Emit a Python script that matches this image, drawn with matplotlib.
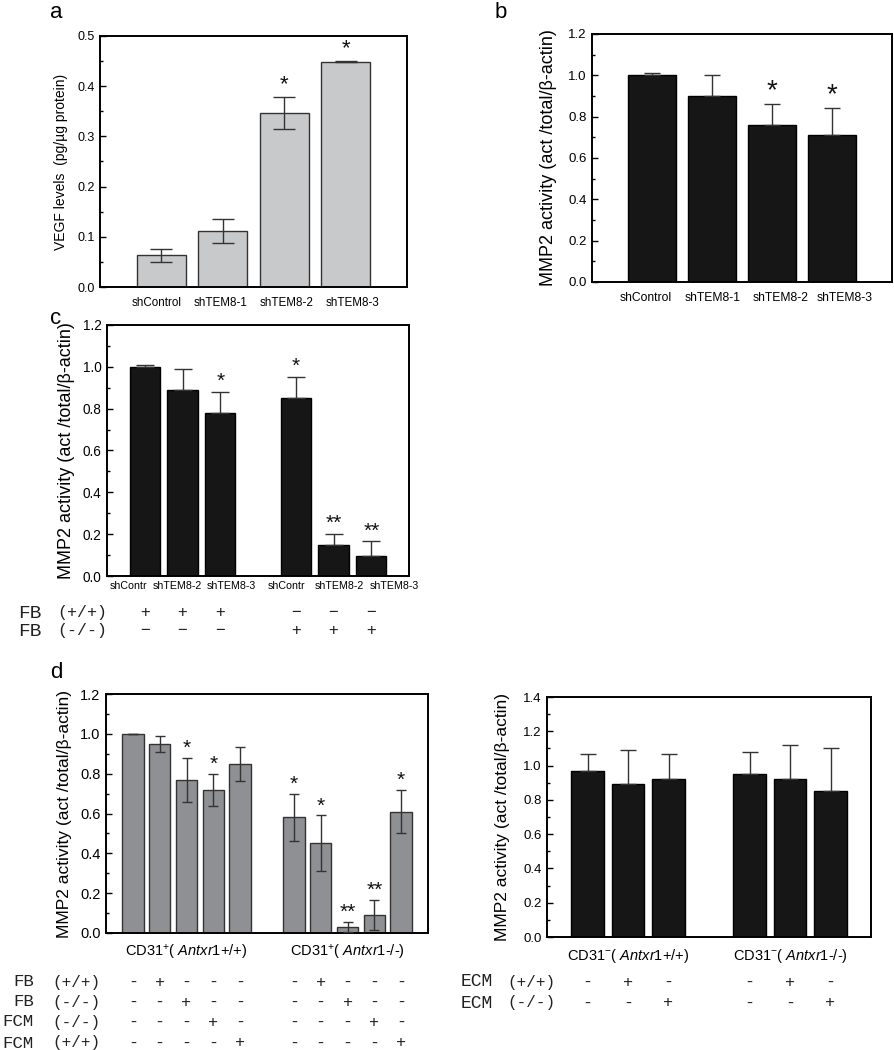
import matplotlib
matplotlib.use("Agg")
import matplotlib.pyplot as plt
import matplotlib.transforms as mtransforms
from matplotlib.ticker import MultipleLocator, FormatStrFormatter

plt.rcParams["font.family"] = ["Liberation Sans", "DejaVu Sans"]
plt.rcParams["mathtext.fontset"] = "custom"
plt.rcParams["mathtext.it"] = "Liberation Sans:italic"
plt.rcParams["mathtext.rm"] = "Liberation Sans"

# ---- data ----
a_labels = ["shControl", "shTEM8-1", "shTEM8-2", "shTEM8-3"]
a_vals = [0.063, 0.112, 0.347, 0.449]
a_err = [0.013, 0.024, 0.032, 0.001]
a_stars = ["", "", "*", "*"]

b_labels = ["shControl", "shTEM8-1", "shTEM8-2", "shTEM8-3"]
b_vals = [1.00, 0.90, 0.76, 0.71]
b_err = [0.01, 0.10, 0.10, 0.13]
b_stars = ["", "", "*", "*"]

c_labels = ["shContr", "shTEM8-2", "shTEM8-3", "shContr", "shTEM8-2", "shTEM8-3"]
c_vals = [1.00, 0.89, 0.78, 0.85, 0.15, 0.095]
c_err = [0.01, 0.10, 0.10, 0.10, 0.05, 0.07]
c_stars = ["", "", "*", "*", "**", "**"]
c_rows = ["FB", "FB"]
c_geno = ["(+/+)", "(-/-)"]
c_signs = [["+", "+", "+", "−", "−", "−"],
           ["−", "−", "−", "+", "+", "+"]]

d_groups = [r"CD31$^{+}$( $\mathit{Antxr1{+}/{+}}$)", r"CD31$^{+}$( $\mathit{Antxr1}$-/-)"]
d_vals = [1.00, 0.95, 0.77, 0.72, 0.85, 0.58, 0.45, 0.03, 0.09, 0.61]
d_err = [0.0, 0.04, 0.11, 0.08, 0.085, 0.12, 0.14, 0.025, 0.075, 0.11]
d_stars = ["", "", "*", "*", "", "*", "*", "**", "**", "*"]
d_rows = ["FB", "FB", "FCM", "FCM"]
d_geno = ["(+/+)", "(-/-)", "(-/-)", "(+/+)"]
d_signs = [["-", "+", "-", "-", "-", "-", "+", "-", "-", "-"],
           ["-", "-", "+", "-", "-", "-", "-", "+", "-", "-"],
           ["-", "-", "-", "+", "-", "-", "-", "-", "+", "-"],
           ["-", "-", "-", "-", "+", "-", "-", "-", "-", "+"]]

e_groups = [r"CD31$^{-}$( $\mathit{Antxr1{+}/{+}}$)", r"CD31$^{-}$( $\mathit{Antxr1}$-/-)"]
e_vals = [0.97, 0.89, 0.92, 0.95, 0.92, 0.85]
e_err = [0.10, 0.20, 0.15, 0.13, 0.20, 0.25]
e_rows = ["ECM", "ECM"]
e_geno = ["(+/+)", "(-/-)"]
e_signs = [["-", "+", "-", "-", "+", "-"],
           ["-", "-", "+", "-", "-", "+"]]

W, H = 894, 1050
fig = plt.figure(figsize=(W / 100, H / 100), dpi=100)
MMP = "MMP2 activity (act /total/β-actin)"


def px_axes(l, t, r, b):
    return fig.add_axes((l / W, 1 - b / H, (r - l) / W, (b - t) / H))


def style(ax, ymax, major, minor, tsize):
    ax.set_ylim(0, ymax)
    ax.yaxis.set_major_locator(MultipleLocator(major))
    ax.yaxis.set_minor_locator(MultipleLocator(minor))
    ax.yaxis.set_major_formatter(FormatStrFormatter("%.1f"))
    ax.tick_params(axis="y", which="major", direction="in", length=4, width=1,
                   labelsize=tsize, pad=4)
    ax.tick_params(axis="y", which="minor", direction="in", length=2.5, width=1)
    ax.tick_params(axis="x", length=0, labelsize=tsize)
    for s in ax.spines.values():
        s.set_linewidth(1.4)


def shift_labels(ax, shifts_px):
    # tick labels in the original sit a little off the bar centres
    for lbl, dx in zip(ax.get_xticklabels(), shifts_px):
        lbl.set_transform(lbl.get_transform()
                          + mtransforms.ScaledTranslation(dx / 100, 0, fig.dpi_scale_trans))


def ylab(ax, text, size, right_px, left_px, width_px):
    ax.set_ylabel(text, fontsize=size)
    ax.yaxis.set_label_coords((right_px - left_px) / width_px, 0.5)


def bars(ax, pos, vals, err, color, edge, two_sided, stars, star_size, star_off, cap):
    lo = err if two_sided else [0] * len(err)
    ax.bar(pos, vals, width=0.8, color=color, edgecolor=edge, linewidth=1.0, zorder=2)
    ax.errorbar(pos, vals, yerr=[lo, err], fmt="none", ecolor="#333333",
                elinewidth=1.0, capsize=cap, capthick=1.0, zorder=3)
    for p, v, e, s in zip(pos, vals, err, stars):
        if s:
            ax.text(p, v + e + star_off, s, ha="center", va="bottom",
                    fontsize=star_size, color="#111111")


def sign_rows(ax, pos, rows, geno, signs, ys, lab_x, geno_x, lsize, gsize, sign_size, sign_font):
    tr = mtransforms.blended_transform_factory(ax.transData, fig.transFigure)
    for r, g, sg, y in zip(rows, geno, signs, ys):
        fy = 1 - y / H
        fig.text(lab_x / W, fy, r, ha="right", va="center", fontsize=lsize,
                 family="Liberation Mono", color="#222222")
        fig.text(geno_x / W, fy, g, ha="left", va="center", fontsize=gsize,
                 family="Liberation Mono", color="#222222")
        for p, s in zip(pos, sg):
            ax.text(p, fy, s, transform=tr, ha="center", va="center",
                    fontsize=sign_size, family=sign_font, color="#222222")


# ---- panel a ----
ax = px_axes(100, 36, 407, 287)
pos = [1, 2, 3, 4]
bars(ax, pos, a_vals, a_err, "#c8c9cb", "#333333", True, a_stars, 16, 0.004, 8)
style(ax, 0.5, 0.1, 0.05, 9)
ax.set_xlim(0, 5)
ax.set_xticks(pos)
ax.set_xticklabels(a_labels, fontsize=8.4)
ax.tick_params(axis="x", pad=7)
shift_labels(ax, [-5, -2, 2, 7])
ylab(ax, "VEGF levels  (pg/µg protein)", 10, 68, 100, 307)
fig.text(50 / W, 1 - 12 / H, "a", fontsize=16, va="center")

# ---- panel b ----
ax = px_axes(592, 34, 892, 282)
bars(ax, pos, b_vals, b_err, "#161616", "#000000", False, b_stars, 20, 0.0, 6)
style(ax, 1.2, 0.2, 0.1, 9.5)
ax.set_xlim(0, 5)
ax.set_xticks(pos)
ax.set_xticklabels(b_labels, fontsize=8.7)
ax.tick_params(axis="x", pad=7)
shift_labels(ax, [-6, 1, 9, 13])
ylab(ax, MMP, 13, 557, 592, 300)
fig.text(495 / W, 1 - 12 / H, "b", fontsize=16, va="center")

# ---- panel c ----
ax = px_axes(107, 325, 409, 576)
pos = [1, 2, 3, 5, 6, 7]
bars(ax, pos, c_vals, c_err, "#161616", "#000000", False, c_stars, 15, 0.005, 6.5)
style(ax, 1.2, 0.2, 0.1, 9.8)
ax.set_xlim(0, 8)
ax.set_xticks(pos)
ax.set_xticklabels(c_labels, fontsize=7.7)
shift_labels(ax, [-16, -5, 11, -9, 6, 23])
ylab(ax, MMP, 13, 75, 107, 302)
fig.text(50 / W, 1 - 318 / H, "c", fontsize=16, va="center")
sign_rows(ax, pos, c_rows, c_geno, c_signs, [613, 631], 42, 57, 14, 12, 12, "Liberation Sans")

# ---- panel d ----
ax = px_axes(106, 694, 428, 933)
pos = [1, 2, 3, 4, 5, 7, 8, 9, 10, 11]
bars(ax, pos, d_vals, d_err, "#8e9093", "#333333", True, d_stars, 15, 0.0, 3.6)
style(ax, 1.2, 0.2, 0.1, 10.5)
ax.set_xlim(0, 12)
ax.set_xticks([3, 9])
ax.set_xticklabels(d_groups, fontsize=10.5)
ax.tick_params(axis="x", pad=7)
ylab(ax, MMP, 12.5, 72, 106, 322)
fig.text(50 / W, 1 - 673 / H, "d", fontsize=16, va="center")
sign_rows(ax, pos, d_rows, d_geno, d_signs, [982, 1002, 1022, 1043], 34, 52, 12.5, 11.5, 12,
          "Liberation Mono")

# ---- panel e ----
ax = px_axes(547, 697, 871, 937)
pos = [1, 2, 3, 5, 6, 7]
bars(ax, pos, e_vals, e_err, "#161616", "#000000", False, [""] * 6, 12, 0.01, 5.5)
style(ax, 1.4, 0.2, 0.1, 9.5)
ax.set_xlim(0, 8)
ax.set_xticks([2, 6])
ax.set_xticklabels(e_groups, fontsize=10.5)
ax.tick_params(axis="x", pad=7)
ylab(ax, MMP, 12.5, 510, 547, 324)
sign_rows(ax, pos, e_rows, e_geno, e_signs, [982, 1003], 493, 507, 13, 11.5, 12, "Liberation Mono")

fig.savefig("out.png", dpi=100, facecolor="white")
